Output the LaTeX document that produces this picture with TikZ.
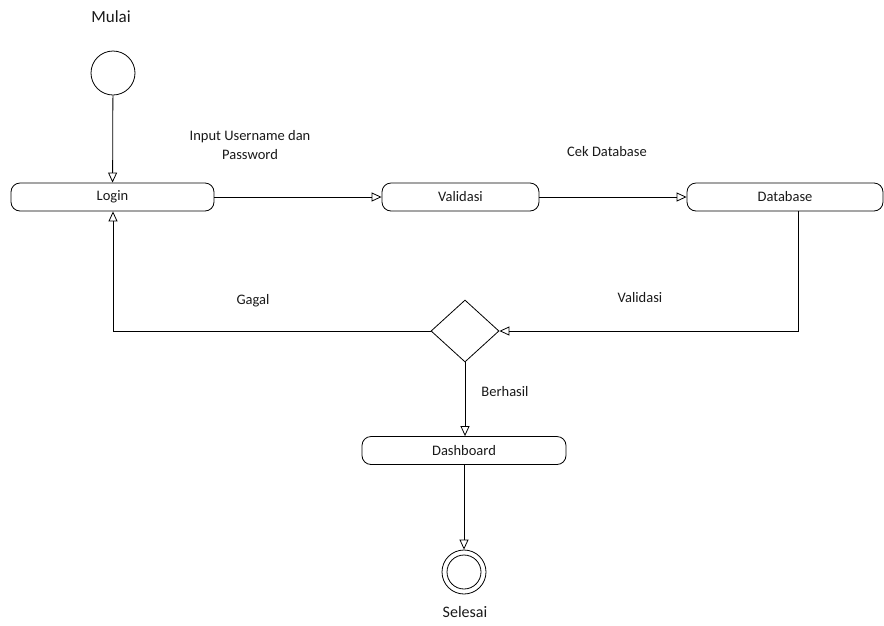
\documentclass[tikz,border=0pt]{standalone}
\usepackage{fontspec}
\setmainfont{Carlito}
\usetikzlibrary{arrows.meta,shapes.geometric}
\begin{document}
\begin{tikzpicture}[x=1pt,y=-1pt,
  every node/.style={font=\fontsize{14.5}{19}\selectfont, text=black!90},
  act/.style={draw, rounded corners=9pt, line width=0.8pt, inner sep=0pt},
  flow/.style={line width=0.8pt, -{Triangle[open,length=10pt,width=9pt]}},
  lbl/.style={align=center, inner sep=0pt},
  big/.style={font=\fontsize{17}{21}\selectfont}]
\useasboundingbox (0,0) rectangle (884,625);
% start
\node[draw, circle, minimum size=44pt, line width=0.8pt, inner sep=0pt] (start) at (113,73) {};
\node[lbl, big] (mulai) at (111,17) {Mulai};
% activities
\node[act, minimum width=203pt, minimum height=28pt] (login) at (112.5,197) {Login};
\node[act, minimum width=157pt, minimum height=28pt] (valid) at (460.5,197) {Validasi};
\node[act, minimum width=196pt, minimum height=28pt] (db) at (785,197) {Database};
\node[act, minimum width=204pt, minimum height=28pt] (dash) at (464,450.5) {Dashboard};
% decision
\node[draw, diamond, minimum width=68pt, minimum height=62pt, inner sep=0pt, line width=0.8pt] (dec) at (465,331) {};
% end
\node[draw, circle, minimum size=44pt, line width=0.8pt, inner sep=0pt] (end) at (464,572) {};
\node[draw, circle, minimum size=34pt, line width=0.8pt, inner sep=0pt] (endin) at (464,572) {};
\node[lbl, font=\fontsize{16}{20}\selectfont] (selesai) at (465,612) {Selesai};
% labels
\node[lbl] (l1) at (250,145) {Input Username dan\\Password};
\node[lbl] (l2) at (607,152) {Cek Database};
\node[lbl] (l3) at (253,301) {Gagal};
\node[lbl] (l4) at (640,298) {Validasi};
\node[lbl] (l5) at (505,392) {Berhasil};
% connectors
\coordinate (gl) at (113,331);
\coordinate (dbc) at (798,331);
\draw[flow] (start) -- (login);
\draw[flow] (login) -- (valid);
\draw[flow] (valid) -- (db);
\draw[flow] (db.south -| dbc) -- (dbc) -- (dec.east);
\draw[flow] (dec.west) -- (gl) -- (login.south -| gl);
\draw[flow] (dec.south) -- (dash.north -| dec.south);
\draw[flow] (dash) -- (end);
\end{tikzpicture}
\end{document}
